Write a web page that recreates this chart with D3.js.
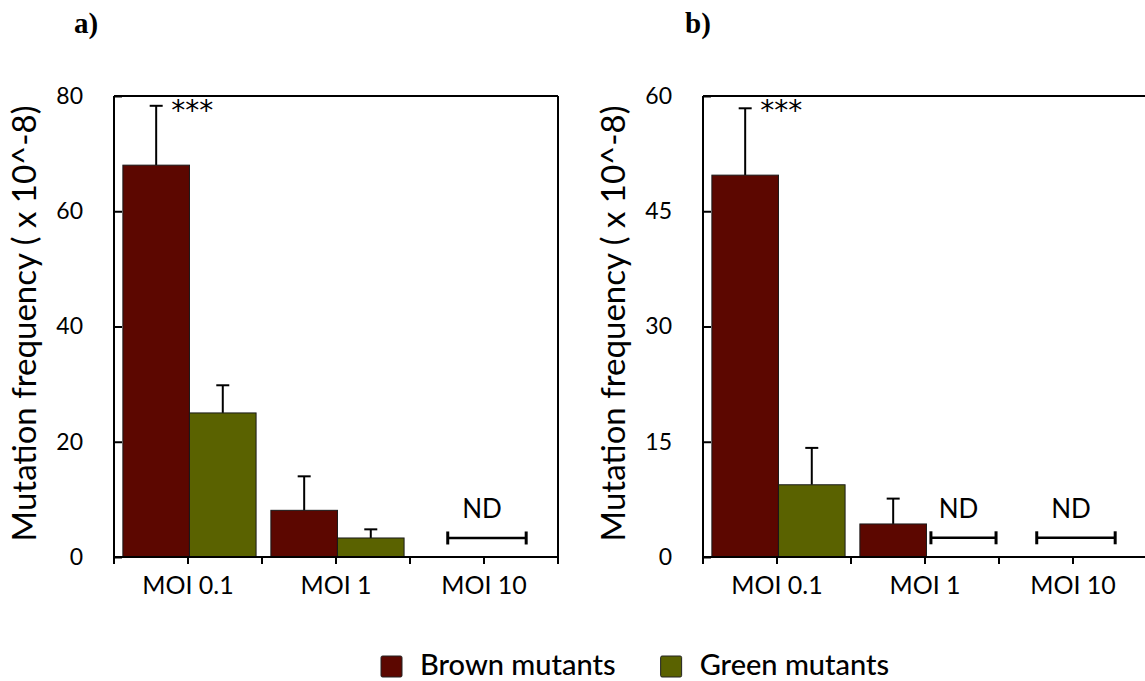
<!DOCTYPE html>
<html>
<head>
<meta charset="utf-8">
<script src="https://cdn.jsdelivr.net/npm/d3@7"></script>
<style>
  html, body { margin: 0; padding: 0; background: #fff; }
  svg { display: block; }
  text { font-family: Lato, "Open Sans", sans-serif; fill: #000; }
</style>
</head>
<body>
<svg id="chart" width="1145" height="681"></svg>
<script>
// Categories and series
const categories = ["MOI 0.1", "MOI 1", "MOI 10"];
const seriesNames = ["Brown mutants", "Green mutants"];
const seriesColors = ["#5C0700", "#5A6200"];

// Panel a) values (x 10^-8), null = not detected
const brownA = [68.0, 8.1, null];
const brownErrA = [10.3, 5.9, null];
const greenA = [25.0, 3.3, null];
const greenErrA = [4.8, 1.5, null];
const ndA = [null, null, "both"];
const ndLevelA = 3.3;
const yTicksA = [0, 20, 40, 60, 80];

// Panel b) values (x 10^-8), null = not detected
const brownB = [49.7, 4.3, null];
const brownErrB = [8.7, 3.3, null];
const greenB = [9.4, null, null];
const greenErrB = [4.8, null, null];
const ndB = [null, "green", "both"];
const ndLevelB = 2.5;
const yTicksB = [0, 15, 30, 45, 60];

const yTitle = "Mutation frequency ( x 10^-8)";
const sigLabel = "***";

const svg = d3.select("#chart");

const plotTop = 96, plotBottom = 557, plotWidth = 444;

function drawPanel(cfg) {
  const g = svg.append("g");
  const x = d3.scaleBand().domain(categories).range([cfg.left, cfg.left + plotWidth]);
  const bw = x.bandwidth();
  const xs = d3.scaleBand().domain(seriesNames).range([bw * 0.06, bw * 0.96]);
  const y = d3.scaleLinear().domain([0, d3.max(cfg.ticks)]).range([plotBottom, plotTop]);

  // frame: top and right edges
  g.append("line").attr("x1", cfg.left).attr("x2", cfg.left + plotWidth)
    .attr("y1", plotTop).attr("y2", plotTop).attr("stroke", "#000").attr("stroke-width", 2);
  g.append("line").attr("x1", cfg.left + plotWidth).attr("x2", cfg.left + plotWidth)
    .attr("y1", plotTop).attr("y2", plotBottom).attr("stroke", "#000").attr("stroke-width", 2);

  // bars
  const rows = [];
  categories.forEach((c, i) => {
    cfg.series.forEach((s, j) => {
      if (s.values[i] != null) rows.push({ cat: c, name: seriesNames[j], color: seriesColors[j], v: s.values[i], e: s.errors[i] });
    });
  });

  // error bars (drawn behind bars)
  const eb = g.append("g");
  rows.forEach(d => {
    const cx = x(d.cat) + xs(d.name) + xs.bandwidth() / 2;
    eb.append("line").attr("x1", cx).attr("x2", cx).attr("y1", y(d.v)).attr("y2", y(d.v + d.e))
      .attr("stroke", "#000").attr("stroke-width", 2);
    eb.append("line").attr("x1", cx - 6.5).attr("x2", cx + 6.5).attr("y1", y(d.v + d.e)).attr("y2", y(d.v + d.e))
      .attr("stroke", "#000").attr("stroke-width", 2);
  });

  g.append("g").selectAll("rect").data(rows).join("rect")
    .attr("x", d => x(d.cat) + xs(d.name))
    .attr("y", d => y(d.v))
    .attr("width", xs.bandwidth())
    .attr("height", d => y(0) - y(d.v))
    .attr("fill", d => d.color)
    .attr("stroke", "#1a1a1a").attr("stroke-width", 1);

  // not detected markers
  cfg.nd.forEach((kind, i) => {
    if (!kind) return;
    const x0 = x(categories[i]) + (kind === "both" ? bw * 0.255 : bw * 0.54);
    const x1 = x(categories[i]) + (kind === "both" ? bw * 0.785 : bw * 0.98);
    const yy = y(cfg.ndLevel);
    g.append("line").attr("x1", x0).attr("x2", x1).attr("y1", yy).attr("y2", yy)
      .attr("stroke", "#000").attr("stroke-width", 2.5);
    [x0, x1].forEach(xx => g.append("line").attr("x1", xx).attr("x2", xx)
      .attr("y1", yy - 6.5).attr("y2", yy + 6.5).attr("stroke", "#000").attr("stroke-width", 3));
    g.append("text").attr("x", (x0 + x1) / 2 - 5).attr("y", yy - 20)
      .attr("text-anchor", "middle").style("font-size", "26px").text("ND");
  });

  // significance mark on the first brown bar
  const sx = x(categories[0]) + xs(seriesNames[0]) + xs.bandwidth() / 2 + 15;
  g.append("text").attr("x", sx).attr("y", plotTop + 24)
    .style("font-family", "'DejaVu Sans', sans-serif").style("font-size", "28px").text(sigLabel);

  // y axis
  const yAxis = d3.axisLeft(y).tickValues(cfg.ticks).tickSizeInner(-8).tickSizeOuter(0).tickPadding(31);
  const ya = g.append("g").attr("transform", `translate(${cfg.left},0)`).call(yAxis);
  ya.select(".domain").remove();
  ya.selectAll(".tick line").attr("stroke", "#000").attr("stroke-width", 2);
  ya.selectAll(".tick text").style("font-size", "23px").attr("fill", "#000");

  // x axis
  const xAxis = d3.axisBottom(x).tickSizeInner(7).tickSizeOuter(0).tickPadding(12);
  const xa = g.append("g").attr("transform", `translate(0,${plotBottom})`).call(xAxis);
  xa.select(".domain").remove();
  xa.selectAll(".tick line").attr("stroke", "#000").attr("stroke-width", 2);
  xa.selectAll(".tick text").style("font-size", "25px").attr("fill", "#000");
  // boundary ticks between categories
  const edges = categories.map(c => x(c)).concat([cfg.left + plotWidth]);
  g.append("g").selectAll("line").data(edges).join("line")
    .attr("x1", d => d).attr("x2", d => d).attr("y1", plotBottom).attr("y2", plotBottom + 7)
    .attr("stroke", "#000").attr("stroke-width", 2);

  // axis lines
  g.append("line").attr("x1", cfg.left).attr("x2", cfg.left).attr("y1", plotTop).attr("y2", plotBottom)
    .attr("stroke", "#000").attr("stroke-width", 2);
  g.append("line").attr("x1", cfg.left).attr("x2", cfg.left + plotWidth).attr("y1", plotBottom).attr("y2", plotBottom)
    .attr("stroke", "#000").attr("stroke-width", 2);

  // y title
  g.append("text").attr("transform", `translate(${cfg.left - 78},${(plotTop + plotBottom) / 2 - 3}) rotate(-90)`)
    .attr("text-anchor", "middle").style("font-size", "33px").text(yTitle);

  // panel label
  g.append("text").attr("x", cfg.labelX).attr("y", 33)
    .style("font-family", "'Liberation Serif', 'Times New Roman', serif").style("font-weight", "bold")
    .style("font-size", "29px").text(cfg.label);
}

drawPanel({
  left: 114, label: "a)", labelX: 74, ticks: yTicksA, ndLevel: ndLevelA, nd: ndA,
  series: [{ values: brownA, errors: brownErrA }, { values: greenA, errors: greenErrA }]
});
drawPanel({
  left: 703, label: "b)", labelX: 685, ticks: yTicksB, ndLevel: ndLevelB, nd: ndB,
  series: [{ values: brownB, errors: brownErrB }, { values: greenB, errors: greenErrB }]
});

// legend
const legend = svg.append("g").attr("transform", "translate(381,0)");
let lx = 0;
seriesNames.forEach((name, i) => {
  legend.append("rect").attr("x", lx).attr("y", 656).attr("width", 21).attr("height", 21)
    .attr("fill", seriesColors[i]).attr("stroke", "#222").attr("stroke-width", 1).attr("rx", 1.5);
  const t = legend.append("text").attr("x", lx + 39).attr("y", 675)
    .style("font-size", "29px").style("font-weight", 500).text(name);
  lx += 39 + t.node().getComputedTextLength() + 45;
});
</script>
</body>
</html>
